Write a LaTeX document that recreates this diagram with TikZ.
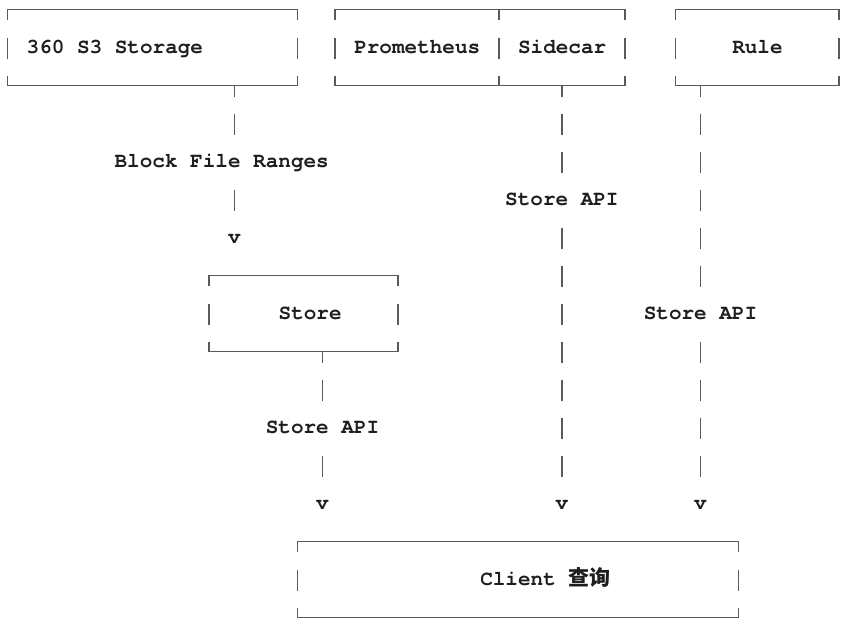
\documentclass[tikz,border=0pt]{standalone}
\usepackage{fontspec}
\newfontfamily\asciifont{texgyrecursor}[Extension=.otf, UprightFont=*-regular, BoldFont=*-bold]
\newfontfamily\cjk{Noto Sans CJK SC}
\definecolor{ink}{HTML}{1E1E1E}
\definecolor{wire}{HTML}{5A5A5A}
\tikzset{
  txt/.style={font=\asciifont\bfseries\fontsize{15.75pt}{18pt}\selectfont, text=ink, inner sep=0pt, text height=9pt, text depth=0pt},
  lbl/.style={txt, fill=white, minimum height=28.5pt},
  tip/.style={txt, minimum height=28.5pt},
  frame/.style={draw=none, inner sep=0pt, outer sep=0pt, minimum height=57pt},
  wireline/.style={draw=wire, line width=1.1pt},
  link/.style={wireline, dash pattern=on 15.75pt off 12.75pt, dash phase=7.5pt},
}
% corner ticks, top/bottom rules and the short side bars of a text box
\newcommand{\asciiframe}[1]{%
  \draw[wireline] ([yshift=-7.5pt]#1.north west) |- (#1.north east) -- ++(0,-7.5pt);
  \draw[wireline] ([yshift=7.5pt]#1.south west) |- (#1.south east) -- ++(0,7.5pt);
  \draw[wireline] ([yshift=7.5pt]#1.west) -- ++(0,-15.75pt);
  \draw[wireline] ([yshift=7.5pt]#1.east) -- ++(0,-15.75pt);
}

\begin{document}
\begin{tikzpicture}[x=9.45pt,y=28.5pt]
\useasboundingbox (-5.625pt,7.125pt) rectangle (631.875pt,-462.375pt);

% boxes
\node[frame, minimum width=23*9.45pt] (s3) at (11.5,-1) {};
\node[frame, minimum width=13*9.45pt] (prom) at (32.5,-1) {};
\node[frame, minimum width=10*9.45pt] (sidecar) at (44,-1) {};
\node[frame, minimum width=13*9.45pt] (rule) at (59.5,-1) {};
\node[frame, minimum width=15*9.45pt] (store) at (23.5,-8) {};
\node[frame, minimum width=35*9.45pt] (client) at (40.5,-15) {};
\foreach \b in {s3,prom,sidecar,rule,store,client} {\asciiframe{\b}}

\node[txt, anchor=west] (s3txt) at (1.5,-1) {360 S3 Storage};
\node[txt, anchor=west] (promtxt) at (27.5,-1) {Prometheus};
\node[txt, anchor=west] (sidecartxt) at (40.5,-1) {Sidecar};
\node[txt, anchor=west] (ruletxt) at (57.5,-1) {Rule};
\node[txt, anchor=west] (storetxt) at (21.5,-8) {Store};
\node[txt, anchor=west] (clienttxt) at (37.5,-15) {Client {\cjk 查询}};

% arrow heads
\node[tip] (v1) at (18,-6) {v};
\node[tip] (v2) at (25,-13) {v};
\node[tip] (v3) at (44,-13) {v};
\node[tip] (v4) at (55,-13) {v};

% links
\draw[link] (v1 |- s3.south) -- (v1.north);
\draw[link] (v2 |- store.south) -- (v2.north);
\draw[link] (v3 |- sidecar.south) -- (v3.north);
\draw[link] (v4 |- rule.south) -- (v4.north);

\node[lbl] (ranges) at (17,-4) {Block File Ranges};
\node[lbl] (api1) at (44,-5) {Store API};
\node[lbl] (api2) at (55,-8) {Store API};
\node[lbl] (api3) at (25,-11) {Store API};
\end{tikzpicture}
\end{document}
